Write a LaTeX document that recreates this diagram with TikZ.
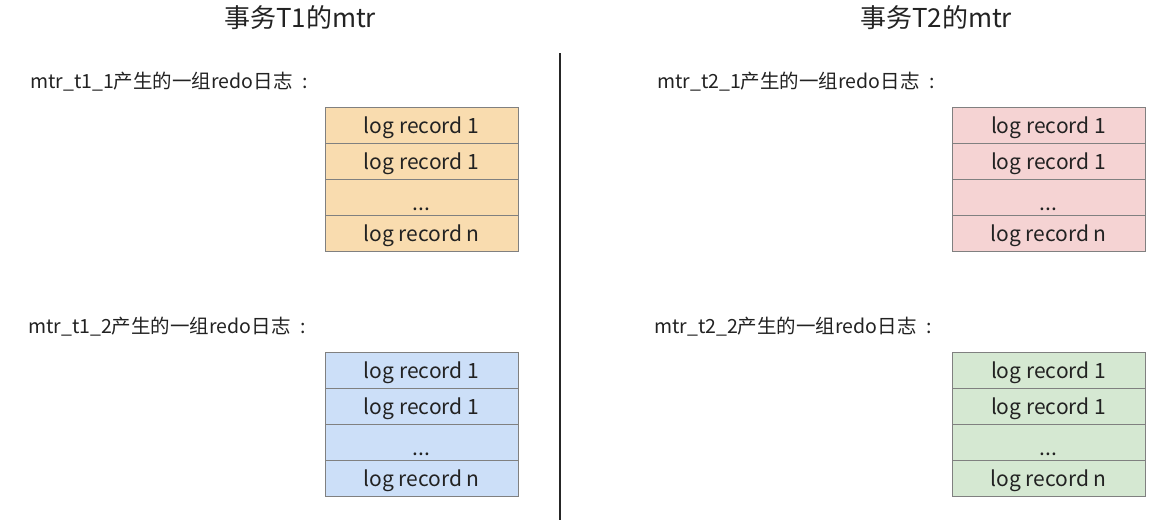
\documentclass[tikz,border=0pt]{standalone}
\usepackage{fontspec}
\setmainfont{Noto Sans CJK SC}
\usetikzlibrary{positioning}
\definecolor{recorange}{HTML}{F9DCAF}
\definecolor{recblue}{HTML}{CCDFF8}
\definecolor{recpink}{HTML}{F5D3D3}
\definecolor{recgreen}{HTML}{D5E8D2}
\definecolor{txtgray}{HTML}{222222}
\begin{document}
\begin{tikzpicture}[x=1pt,y=-1pt]
		\tikzstyle{logrec} = [draw=black!50, minimum width=193pt, minimum height=36pt, inner sep=0, outer sep=0, text height=20pt, text depth=4pt, text=txtgray, font=\fontsize{21}{21}\selectfont]
		\tikzstyle{title} = [text=txtgray, font=\fontsize{26}{26}\selectfont]
		\tikzstyle{grouplabel} = [anchor=west, inner sep=0, text=txtgray, font=\fontsize{19.5}{19.5}\selectfont]
		\useasboundingbox (0,0) rectangle (1160,522);
		\node [title] (t1) at (300,18) {事务T1的mtr};
		\node [title] (t2) at (936,18) {事务T2的mtr};
		\node [grouplabel] (l11) at (30,82) {mtr\_t1\_1产生的一组redo日志\hspace{0.5em}:};
		\node [grouplabel] (l12) at (28,327) {mtr\_t1\_2产生的一组redo日志\hspace{0.5em}:};
		\node [grouplabel] (l21) at (657,82) {mtr\_t2\_1产生的一组redo日志\hspace{0.5em}:};
		\node [grouplabel] (l22) at (654,327) {mtr\_t2\_2产生的一组redo日志\hspace{0.5em}:};
		\foreach \bx/\by/\col/\nm in {421.5/125/recorange/a, 421.5/370/recblue/b, 1048.5/125/recpink/c, 1048.5/370/recgreen/d}
		{
			\node [logrec, fill=\col] (\nm1) at (\bx,\by) {log record 1};
			\node [logrec, fill=\col, below=0pt of \nm1] (\nm2) {log record 1};
			\node [logrec, fill=\col, below=0pt of \nm2] (\nm3) {\raisebox{-5pt}{...}};
			\node [logrec, fill=\col, below=0pt of \nm3] (\nm4) {log record n};
		}
		\coordinate (sep top) at (560,53);
		\coordinate (sep bot) at (560,520);
		\draw [line width=1.5pt, black!85] (sep top) -- (sep bot);
\end{tikzpicture}
\end{document}
